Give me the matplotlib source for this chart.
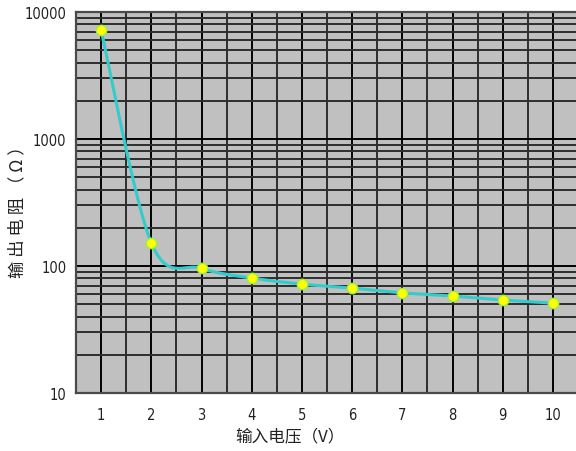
import numpy as np
import matplotlib
import matplotlib.pyplot as plt
from matplotlib.ticker import FixedLocator, NullFormatter

matplotlib.use('Agg')

# --- data --- #
voltage = [1, 2, 3, 4, 5, 6, 7, 8, 9, 10]
resistance = [7200, 152, 96, 80.5, 72, 67, 61.5, 58, 54, 51]
x_ticks = [1, 2, 3, 4, 5, 6, 7, 8, 9, 10]
y_ticks = [10, 100, 1000, 10000]
y_tick_labels = ['10', '100', '1000', '10000']


def smooth(xs, ys, n=40):
    # catmull-rom through the points, done in screen-like units (log y)
    px = np.asarray(xs, float) * 50.0
    py = np.log10(np.asarray(ys, float)) * 127.0
    pts = np.column_stack([px, py])
    pts = np.vstack([pts[0], pts, pts[-1]])
    t = np.linspace(0, 1, n)[:, None]
    out = []
    for i in range(1, len(pts) - 2):
        p0, p1, p2, p3 = pts[i - 1], pts[i], pts[i + 1], pts[i + 2]
        seg = 0.5 * (2 * p1 + (-p0 + p2) * t
                     + (2 * p0 - 5 * p1 + 4 * p2 - p3) * t ** 2
                     + (-p0 + 3 * p1 - 3 * p2 + p3) * t ** 3)
        out.append(seg)
    out = np.vstack(out)
    return out[:, 0] / 50.0, 10 ** (out[:, 1] / 127.0)


plt.rcParams['font.family'] = ['Noto Sans CJK SC', 'DejaVu Sans']
num_font = ['DejaVu Sans']

fig = plt.figure(figsize=(5.76, 4.52), dpi=100)
ax = fig.add_axes([76 / 576, 58 / 452, 502 / 576, 381 / 452])
ax.set_facecolor('#c0c0c0')

ax.set_yscale('log')
ax.set_xlim(0.5, 10.5)
ax.set_ylim(10, 10000)

ax.xaxis.set_major_locator(FixedLocator(x_ticks))
ax.xaxis.set_minor_locator(FixedLocator(np.arange(0.5, 11, 1.0)))
ax.yaxis.set_major_locator(FixedLocator(y_ticks))
minor_y = [m * 10 ** e for e in range(1, 4) for m in range(2, 10)]
ax.yaxis.set_minor_locator(FixedLocator(minor_y))
ax.yaxis.set_minor_formatter(NullFormatter())
ax.set_yticklabels(y_tick_labels)

ax.grid(which='major', color='#000000', lw=1.4)
ax.grid(which='minor', color='#2e2e2e', lw=1.4)
ax.set_axisbelow(True)
ax.tick_params(which='both', length=0)
ax.tick_params(axis='x', pad=10)
ax.tick_params(axis='y', pad=7)
for lab in ax.get_xticklabels() + ax.get_yticklabels():
    lab.set_family(num_font)
    lab.set_fontstretch('condensed')
    lab.set_fontsize(10.5)
    lab.set_color('#222222')

for sp in ax.spines.values():
    sp.set_color('#4a4a4a')
    sp.set_linewidth(1.6)

sx, sy = smooth(voltage, resistance)
ax.plot(sx, sy, color='#33cccc', lw=2.2, zorder=3)
ax.plot(voltage, resistance, 'o', color='#ffff00', markersize=7.5,
        markeredgecolor='#99ee44', markeredgewidth=1.0, zorder=4)

ax.set_xlabel('输入电压（V）', fontsize=12, color='#222222', va='center')
ax.xaxis.set_label_coords((290 - 76) / 502, (394 - 437) / 381)
fig.text(17 / 576, 1 - 208 / 452, '输 出 电 阻 （ Ω ）', rotation=90,
         fontsize=12.5, color='#222222', ha='center', va='center')

plt.savefig('out.png', dpi=100)
